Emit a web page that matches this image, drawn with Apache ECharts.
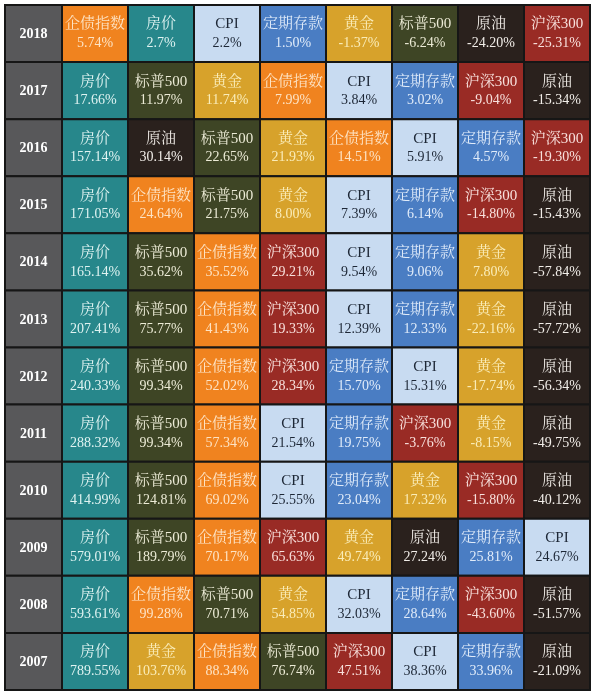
<!DOCTYPE html>
<html>
<head>
<meta charset="utf-8">
<script src="https://cdn.jsdelivr.net/npm/echarts@6/dist/echarts.min.js"></script>
<style>
	html, body { margin: 0; padding: 0; background: #fff; }
	#main { width: 600px; height: 692px; }
</style>
</head>
<body>
<div id="main"></div>
<script>
	// 年份（从上到下）
	const years = ['2018', '2017', '2016', '2015', '2014', '2013', '2012', '2011', '2010', '2009', '2008', '2007'];
	const assets = ['房价', '企债指数', 'CPI', '定期存款', '黄金', '标普500', '原油', '沪深300'];

	// 各资产每年收益（%），顺序同 years
	const housePrice = ['2.7', '17.66', '157.14', '171.05', '165.14', '207.41', '240.33', '288.32', '414.99', '579.01', '593.61', '789.55'];
	const corpBond = ['5.74', '7.99', '14.51', '24.64', '35.52', '41.43', '52.02', '57.34', '69.02', '70.17', '99.28', '88.34'];
	const cpi = ['2.2', '3.84', '5.91', '7.39', '9.54', '12.39', '15.31', '21.54', '25.55', '24.67', '32.03', '38.36'];
	const deposit = ['1.50', '3.02', '4.57', '6.14', '9.06', '12.33', '15.70', '19.75', '23.04', '25.81', '28.64', '33.96'];
	const gold = ['-1.37', '11.74', '21.93', '8.00', '7.80', '-22.16', '-17.74', '-8.15', '17.32', '49.74', '54.85', '103.76'];
	const sp500 = ['-6.24', '11.97', '22.65', '21.75', '35.62', '75.77', '99.34', '99.34', '124.81', '189.79', '70.71', '76.74'];
	const oil = ['-24.20', '-15.34', '30.14', '-15.43', '-57.84', '-57.72', '-56.34', '-49.75', '-40.12', '27.24', '-51.57', '-21.09'];
	const hs300 = ['-25.31', '-9.04', '-19.30', '-14.80', '29.21', '19.33', '28.34', '-3.76', '-15.80', '65.63', '-43.60', '47.51'];

	const ranks = ['1', '2', '3', '4', '5', '6', '7', '8'];

	const assetValues = [housePrice, corpBond, cpi, deposit, gold, sp500, oil, hs300];

	// 颜色：背景 / 文字
	const assetStyle = [
		{ bg: '#27878b', fg: '#dff3f1' }, // 房价
		{ bg: '#f0831f', fg: '#fde3c4' }, // 企债指数
		{ bg: '#c8dbf1', fg: '#1d2736' }, // CPI
		{ bg: '#4a7dc3', fg: '#e0ebf9' }, // 定期存款
		{ bg: '#d7a22b', fg: '#faecb8' }, // 黄金
		{ bg: '#3e4525', fg: '#ecebd6' }, // 标普500
		{ bg: '#2a211d', fg: '#f1ede8' }, // 原油
		{ bg: '#992b25', fg: '#f8e0dc' }  // 沪深300
	];

	const FONT_FAMILY = '"Liberation Serif", "Noto Serif CJK SC", "Noto Sans CJK SC", serif';

	// 按年排序，生成格子
	let cells = [];
	years.forEach(function(y, yi) {
		let list = assetValues.map(function(arr, ai) {
			return { asset: ai, value: arr[yi] };
		});
		list.sort(function(a, b) { return parseFloat(b.value) - parseFloat(a.value); });
		list.forEach(function(c, r) {
			cells.push({ rank: r, year: yi, asset: c.asset, value: c.value });
		});
	});

	function renderCell(params, api) {
		let p = api.coord([api.value(0), api.value(1)]);
		let s = api.size([1, 1]);
		let item = cells[params.dataIndex];
		let st = assetStyle[item.asset];
		return {
			type: 'group',
			children: [
				{
					type: 'rect',
					shape: { x: p[0] - s[0] / 2, y: p[1] - s[1] / 2, width: s[0], height: s[1] },
					style: { fill: st.bg, stroke: '#161616', lineWidth: 2 }
				},
				{
					type: 'text',
					x: p[0], y: p[1] - 9,
					style: {
						text: assets[item.asset],
						fill: st.fg,
						font: '15px ' + FONT_FAMILY,
						align: 'center',
						verticalAlign: 'middle'
					}
				},
				{
					type: 'text',
					x: p[0], y: p[1] + 10,
					style: {
						text: item.value + '%',
						fill: st.fg,
						font: '14px ' + FONT_FAMILY,
						align: 'center',
						verticalAlign: 'middle'
					}
				}
			]
		};
	}

	function renderYear(params, api) {
		let p = api.coord([api.value(0), api.value(1)]);
		let s = api.size([1, 1]);
		return {
			type: 'group',
			children: [
				{
					type: 'rect',
					shape: { x: p[0] - s[0] / 2, y: p[1] - s[1] / 2, width: s[0], height: s[1] },
					style: { fill: '#58585a', stroke: '#161616', lineWidth: 2 }
				},
				{
					type: 'text',
					x: p[0], y: p[1] + 1,
					style: {
						text: years[api.value(1)],
						fill: '#ffffff',
						font: 'bold 14px ' + FONT_FAMILY,
						align: 'center',
						verticalAlign: 'middle'
					}
				}
			]
		};
	}

	let hiddenAxis = { show: false };

	let option = {
		backgroundColor: '#ffffff',
		animation: false,
		grid: [
			{ left: 5, top: 5, width: 57, bottom: 2 },
			{ left: 62, top: 5, right: 10, bottom: 2 }
		],
		xAxis: [
			{ type: 'category', data: [''], gridIndex: 0, show: false },
			{ type: 'category', data: ranks, gridIndex: 1, show: false }
		],
		yAxis: [
			{ type: 'category', data: years, gridIndex: 0, inverse: true, show: false },
			{ type: 'category', data: years, gridIndex: 1, inverse: true, show: false }
		],
		series: [
			{
				type: 'custom',
				xAxisIndex: 0,
				yAxisIndex: 0,
				renderItem: renderYear,
				data: years.map(function(y, i) { return [0, i]; })
			},
			{
				type: 'custom',
				xAxisIndex: 1,
				yAxisIndex: 1,
				renderItem: renderCell,
				data: cells.map(function(c) { return [c.rank, c.year]; })
			}
		]
	};

	let myChart = echarts.init(document.getElementById('main'));
	myChart.setOption(option);
</script>
</body>
</html>
